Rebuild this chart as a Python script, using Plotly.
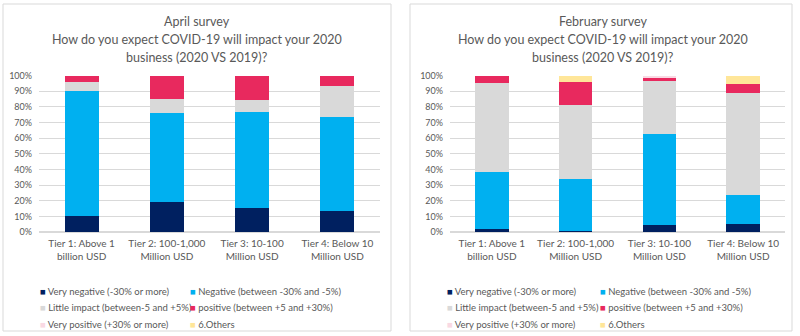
import plotly.graph_objects as go

categories = ["Tier 1: Above 1<br>billion USD", "Tier 2: 100-1,000<br>Million USD",
              "Tier 3: 10-100<br>Million USD", "Tier 4: Below 10<br>Million USD"]
series_names = ["Very negative (-30% or more)", "Negative (between -30% and -5%)",
                "Little impact (between-5 and +5%)", "positive (between +5 and +30%)",
                "Very positive (+30% or more)", "6.Others"]
colors = ["#002060", "#00B0F0", "#D9D9D9", "#E8295E", "#F9D9E3", "#FFE699"]

# April survey (percent)
apr_very_negative = [10.2, 19.2, 15.6, 13.2]
apr_negative = [79.8, 56.9, 61.4, 60.1]
apr_little = [5.7, 9.2, 7.6, 19.9]
apr_positive = [4.3, 14.7, 15.4, 6.8]
apr_very_positive = [0, 0, 0, 0]
apr_others = [0, 0, 0, 0]

# February survey (percent)
feb_very_negative = [1.7, 0.9, 4.7, 4.9]
feb_negative = [36.4, 33.1, 58.1, 18.5]
feb_little = [57.2, 47.3, 33.7, 65.7]
feb_positive = [4.7, 14.4, 1.8, 5.4]
feb_very_positive = [0, 0, 1.7, 0]
feb_others = [0, 4.3, 0, 5.5]

april = [apr_very_negative, apr_negative, apr_little, apr_positive, apr_very_positive, apr_others]
february = [feb_very_negative, feb_negative, feb_little, feb_positive, feb_very_positive, feb_others]

W, H = 800, 336
FONT = "Lato"
GREY = "#595959"


def px_x(p):
    return p / W


def px_y(p):
    return 1 - p / H


fig = go.Figure()

for i, name in enumerate(series_names):
    fig.add_trace(go.Bar(x=categories, y=april[i], name=name, marker_color=colors[i],
                         marker_line_width=0, width=0.4, xaxis="x", yaxis="y", showlegend=False))
    fig.add_trace(go.Bar(x=categories, y=february[i], name=name, marker_color=colors[i],
                         marker_line_width=0, width=0.4, xaxis="x2", yaxis="y2", showlegend=False))

# legend: one single-entry legend per item (two columns x three rows per panel)
legend_common = dict(orientation="h", traceorder="normal", bgcolor="rgba(0,0,0,0)",
                     font=dict(family=FONT, size=9.5, color=GREY), itemwidth=30,
                     xref="paper", yref="paper", xanchor="left", yanchor="middle",
                     tracegroupgap=0, itemclick=False, itemdoubleclick=False)
row_y = [291, 307.5, 324]
col_x = [[0, 150], [407, 560]]
legends = {}
for panel in range(2):
    for i, name in enumerate(series_names):
        idx = panel * 6 + i
        key = "legend" if idx == 0 else f"legend{idx + 1}"
        legends[key] = dict(x=px_x(col_x[panel][i % 2]), y=px_y(row_y[i // 2]), **legend_common)
        label = f"<span style='color:{colors[i]}'>■</span> {name}"
        fig.add_trace(go.Scatter(x=[None], y=[None], mode="markers", name=label,
                                 marker=dict(size=1, color="rgba(0,0,0,0)"),
                                 legend=key, showlegend=True, xaxis="x", yaxis="y"))

ydom = [px_y(232), px_y(75.7)]
axis_common = dict(showgrid=False, showline=False, zeroline=False, automargin=False,
                   tickfont=dict(family=FONT, size=10, color=GREY), ticklabelstandoff=4,
                   fixedrange=True)
yaxis_common = dict(range=[0, 100], dtick=10, ticksuffix="%", showgrid=True, automargin=False,
                    gridcolor="#D9D9D9", gridwidth=1, zeroline=True, zerolinecolor="#D9D9D9",
                    showline=False, tickfont=dict(family=FONT, size=9, color=GREY),
                    ticklabelstandoff=6, fixedrange=True)

fig.update_layout(
    width=W, height=H, margin=dict(l=0, r=0, t=0, b=0, autoexpand=False),
    paper_bgcolor="white", plot_bgcolor="white", barmode="stack",
    xaxis=dict(domain=[px_x(39), px_x(380)], anchor="y", **axis_common),
    yaxis=dict(domain=ydom, anchor="x", **yaxis_common),
    xaxis2=dict(domain=[px_x(450), px_x(785)], anchor="y2", **axis_common),
    yaxis2=dict(domain=ydom, anchor="x2", **yaxis_common),
    showlegend=True,
    **legends,
)

# panel borders
for x0, x1 in [(3, 391), (410, 792)]:
    fig.add_shape(type="rect", xref="paper", yref="paper",
                  x0=px_x(x0), x1=px_x(x1), y0=px_y(331), y1=px_y(4),
                  line=dict(color="#D9D9D9", width=1), fillcolor="rgba(0,0,0,0)", layer="below")

titles = [("April survey", 196.5), ("February survey", 603)]
lines2 = ["How do you expect COVID-19 will impact your 2020", "business (2020 VS 2019)?"]
for t, cx in titles:
    for j, txt in enumerate([t] + lines2):
        fig.add_annotation(text=txt, x=px_x(cx), y=px_y(21 + j * 18), xref="paper", yref="paper",
                           showarrow=False, xanchor="center", yanchor="middle",
                           font=dict(family=FONT, size=12.5, color=GREY))

fig.write_html("out.html")
